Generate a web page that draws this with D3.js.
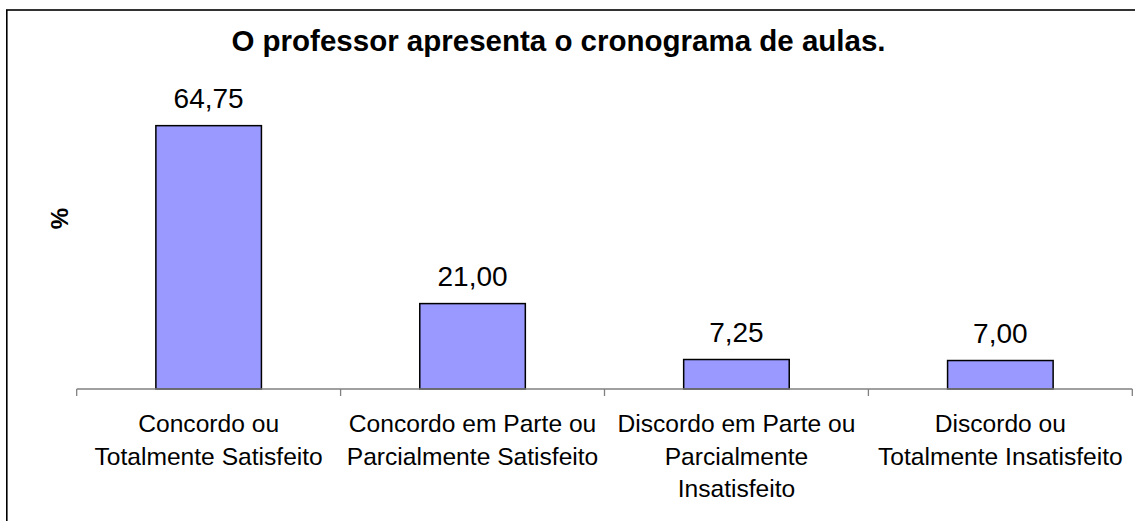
<!DOCTYPE html>
<html>
<head>
<meta charset="utf-8">
<script src="https://cdn.jsdelivr.net/npm/d3@7"></script>
<style>
  body { margin: 0; background: #fff; }
  text { font-family: "Liberation Sans", Arial, sans-serif; fill: #000; }
</style>
</head>
<body>
<svg id="chart" width="1135" height="521"></svg>
<script>
const categories = [
  ["Concordo ou", "Totalmente Satisfeito"],
  ["Concordo em Parte ou", "Parcialmente Satisfeito"],
  ["Discordo em Parte ou", "Parcialmente", "Insatisfeito"],
  ["Discordo ou", "Totalmente Insatisfeito"],
];
const values = [64.75, 21.0, 7.25, 7.0];
const valueLabels = ["64,75", "21,00", "7,25", "7,00"];
const title = "O professor apresenta o cronograma de aulas.";
const yTitle = "%";

const svg = d3.select("#chart");
const width = 1135, height = 521;
const plot = { left: 76.7, right: 1132.3, top: 104.3, bottom: 389 };

svg.append("rect").attr("width", width).attr("height", height).attr("fill", "#fff");

// outer frame (right and bottom edges lie outside the picture)
svg.append("rect")
  .attr("x", 6.8).attr("y", 10)
  .attr("width", 1200).attr("height", 600)
  .attr("fill", "none").attr("stroke", "#000").attr("stroke-width", 1.6);

const ids = categories.map((d, i) => i);
const x = d3.scaleBand()
  .domain(ids)
  .range([plot.left, plot.right])
  .paddingInner(0.6)
  .paddingOuter(0.3);
const y = d3.scaleLinear().domain([0, 70]).range([plot.bottom, plot.top]);
const step = x.step();
const edge = (i) => plot.left + i * step;

// bars
svg.append("g")
  .selectAll("rect")
  .data(values)
  .join("rect")
  .attr("x", (d, i) => x(i))
  .attr("y", (d) => y(d))
  .attr("width", x.bandwidth())
  .attr("height", (d) => y(0) - y(d))
  .attr("fill", "#9999ff")
  .attr("stroke", "#000")
  .attr("stroke-width", 1.5);

// category axis
const axis = svg.append("g").attr("stroke", "#808080").attr("stroke-width", 1.3);
axis.append("line")
  .attr("x1", plot.left).attr("x2", plot.right)
  .attr("y1", plot.bottom).attr("y2", plot.bottom);
axis.selectAll(".tick")
  .data(d3.range(categories.length + 1))
  .join("line")
  .attr("class", "tick")
  .attr("x1", (i) => edge(i)).attr("x2", (i) => edge(i))
  .attr("y1", plot.bottom).attr("y2", plot.bottom + 7);

// value labels
svg.append("g")
  .selectAll("text")
  .data(values)
  .join("text")
  .attr("x", (d, i) => x(i) + x.bandwidth() / 2)
  .attr("y", (d) => y(d) - 18)
  .attr("text-anchor", "middle")
  .style("font-size", "28px")
  .text((d, i) => valueLabels[i]);

// category labels
const cat = svg.append("g")
  .selectAll("text")
  .data(categories)
  .join("text")
  .attr("x", (d, i) => x(i) + x.bandwidth() / 2)
  .attr("y", 432)
  .attr("text-anchor", "middle")
  .style("font-size", "24.6px");
cat.selectAll("tspan")
  .data((d) => d)
  .join("tspan")
  .attr("x", function () { return this.parentNode.getAttribute("x"); })
  .attr("dy", (d, j) => (j === 0 ? 0 : 32.6))
  .text((d) => d);

// title
svg.append("text")
  .attr("x", 558.5)
  .attr("y", 51)
  .attr("text-anchor", "middle")
  .style("font-size", "29.5px")
  .style("font-weight", "bold")
  .text(title);

// y axis title
svg.append("text")
  .attr("transform", "translate(68,218.5) rotate(-90)")
  .attr("text-anchor", "middle")
  .style("font-size", "24px")
  .style("font-weight", "bold")
  .text(yTitle);
</script>
</body>
</html>
